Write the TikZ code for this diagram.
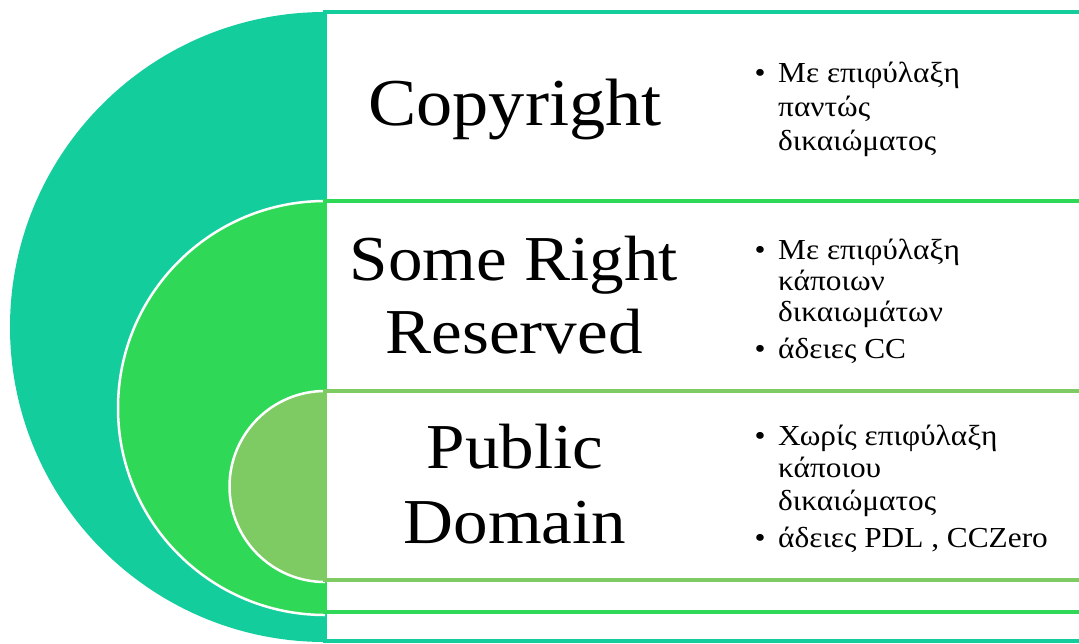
\documentclass[tikz,border=0pt]{standalone}
\usepackage{fontspec}
\setmainfont{Liberation Serif}[FakeStretch=1.08]
\definecolor{cteal}{HTML}{13CE9C}
\definecolor{cgreen}{HTML}{30D858}
\definecolor{clight}{HTML}{7DCB62}
\begin{document}
\begin{tikzpicture}[x=1pt,y=-1pt,
  band/.style={line width=4pt, fill=white},
  halo/.style={draw=white, line width=2.5pt},
  title/.style={anchor=base, inner sep=0pt, font=\fontsize{64}{70}\selectfont},
  bigtitle/.style={title, font=\fontsize{67}{74}\selectfont},
  item/.style={anchor=base west, inner sep=0pt, font=\fontsize{29}{33}\selectfont},
  bul/.style={anchor=base, inner sep=0pt, font=\fontsize{29}{33}\selectfont}]
\useasboundingbox (0,0) rectangle (1079,643);
% outer level
\fill[cteal] (325,12) arc[start angle=270,end angle=90,radius=315] -- cycle;
\draw[band, draw=cteal] (325,12) rectangle (1095,641);
% middle level
\fill[cgreen] (325,201) arc[start angle=270,end angle=90,radius=207] -- cycle;
\draw[halo] (325,201) arc[start angle=270,end angle=90,radius=207];
\draw[band, draw=cgreen] (325,201) rectangle (1095,612);
% inner level
\fill[clight] (325,391) arc[start angle=270,end angle=90,radius=95.5] -- cycle;
\draw[halo] (325,391) arc[start angle=270,end angle=90,radius=95.5];
\draw[band, draw=clight] (325,391) rectangle (1095,580);
% titles
\node[bigtitle] (t1) at (515,125) {Copyright};
\node[title] (t2a) at (514,280) {Some Right};
\node[title] (t2b) at (514,353) {Reserved};
\node[title] (t3a) at (515,468) {Public};
\node[title] (t3b) at (515,543) {Domain};
% section 1
\node[bul] (b1) at (760,82) {•};
\node[item] (l11) at (778,82) {Με επιφύλαξη};
\node[item] (l12) at (778,116) {παντώς};
\node[item] (l13) at (778,150) {δικαιώματος};
% section 2
\node[bul] (b2) at (760,259) {•};
\node[item] (l21) at (778,259) {Με επιφύλαξη};
\node[item] (l22) at (778,290) {κάποιων};
\node[item] (l23) at (778,321) {δικαιωμάτων};
\node[bul] (b3) at (760,358) {•};
\node[item] (l24) at (778,358) {άδειες CC};
% section 3
\node[bul] (b4) at (760,445) {•};
\node[item] (l31) at (778,445) {Χωρίς επιφύλαξη};
\node[item] (l32) at (778,477) {κάποιου};
\node[item] (l33) at (778,510) {δικαιώματος};
\node[bul] (b5) at (760,547) {•};
\node[item] (l34) at (778,547) {άδειες PDL , CCZero};
\end{tikzpicture}
\end{document}
